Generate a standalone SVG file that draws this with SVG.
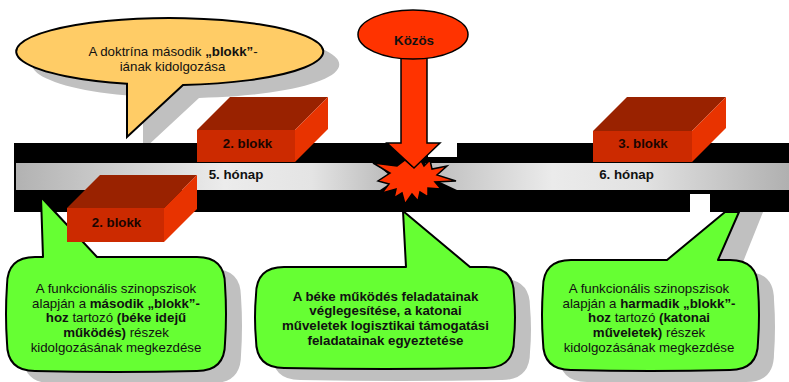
<svg xmlns="http://www.w3.org/2000/svg" width="789" height="382" viewBox="0 0 789 382">
<defs>
<style>
text{font-family:"Liberation Sans",Arial,sans-serif;font-size:13.3px;fill:#111;}
.b{font-weight:bold;}
.bub{fill:#66ff33;stroke:#000;stroke-width:2;stroke-linejoin:round;}
.shadow{fill:#c0c0c0;}
.top{fill:#992200;}
.front{fill:#cc2a00;}
.side{fill:#e83300;}
.blk{font-weight:bold;fill:#1a0500;text-anchor:middle;}
.red{fill:#ff3300;stroke:#000;stroke-width:1.5;stroke-linejoin:miter;}
.mid{text-anchor:middle;}
</style>
<linearGradient id="g5" gradientUnits="userSpaceOnUse" x1="16" y1="0" x2="395" y2="0">
<stop offset="0" stop-color="#b2b2b2"/>
<stop offset="0.55" stop-color="#ececec"/>
<stop offset="0.78" stop-color="#e4e4e4"/>
<stop offset="1" stop-color="#b8b8b8"/>
</linearGradient>
<linearGradient id="g6" gradientUnits="userSpaceOnUse" x1="425" y1="0" x2="789" y2="0">
<stop offset="0" stop-color="#bcbcbc"/>
<stop offset="0.35" stop-color="#ebebeb"/>
<stop offset="0.6" stop-color="#e2e2e2"/>
<stop offset="1" stop-color="#b0b0b0"/>
</linearGradient>
</defs>
<rect width="789" height="382" fill="#fff"/>

<!-- yellow callout -->
<g id="callout-doktrina">
<path class="shadow" transform="translate(16,13)" d="M127,83.7 L127,137 L183,84.9 A153.5 33.5 0 1 0 127,83.7 Z"/>
<path d="M127,83.7 L127,137 L183,84.9 A153.5 33.5 0 1 0 127,83.7 Z" fill="#ffcc66" stroke="#000" stroke-width="2" stroke-linejoin="miter"/>
<text class="mid" x="173" y="55.5">A doktrína második <tspan class="b">„blokk”</tspan>-</text>
<text class="mid" x="172.5" y="71">iának kidolgozása</text>
</g>

<!-- timeline band -->
<g id="timeline">
<rect x="14" y="143" width="775" height="69" fill="#000"/>
<polygon points="16,163 375,163 395,180 380,190 16,190" fill="url(#g5)"/>
<polygon points="425,163 789,163 789,190 457,190 440,182" fill="url(#g6)"/>
<rect x="428" y="143" width="29" height="14" fill="#fff"/>
<rect x="690" y="194" width="20" height="18" fill="#fff"/>
<text class="b mid" x="236" y="178.5">5. hónap</text>
<text class="b mid" x="626.5" y="178.5">6. hónap</text>
</g>

<!-- green callouts -->
<g id="callout-left">
<path class="shadow" transform="translate(16,12)" d="M35,257 L197,257 Q225,257 225,285 Q227,314 225,343 Q225,371 197,371 Q116,373 35,371 Q7,371 7,343 Q5,314 7,285 Q7,257 35,257 Z"/>
<path class="bub" d="M35,257 L43,257 L41,197 L97,257 L197,257 Q225,257 225,285 Q227,314 225,343 Q225,371 197,371 Q116,373 35,371 Q7,371 7,343 Q5,314 7,285 Q7,257 35,257 Z"/>
<text class="mid" x="116" y="292.7">A funkcionális szinopszisok</text>
<text class="mid" x="116" y="307.5">alapján a <tspan class="b">második „blokk”-</tspan></text>
<text class="mid" x="116" y="322.2"><tspan class="b">hoz</tspan> tartozó <tspan class="b">(béke idejű</tspan></text>
<text class="mid" x="116" y="337"><tspan class="b">működés)</tspan> részek</text>
<text class="mid" x="116" y="351.7">kidolgozásának megkezdése</text>
</g>

<g id="callout-middle">
<path class="shadow" transform="translate(16,12)" d="M284,267 L486,267 Q514,267 514,295 Q516,317 514,340 Q514,368 486,368 Q385,370 284,368 Q256,368 256,340 Q254,317 256,295 Q256,267 284,267 Z"/>
<path class="bub" d="M284,267 L406,267 L403,211 L470,267 L486,267 Q514,267 514,295 Q516,317 514,340 Q514,368 486,368 Q385,370 284,368 Q256,368 256,340 Q254,317 256,295 Q256,267 284,267 Z"/>
<text class="b mid" x="385.5" y="300.5">A béke működés feladatainak</text>
<text class="b mid" x="385.5" y="315.2">véglegesítése, a katonai</text>
<text class="b mid" x="385.5" y="330">műveletek logisztikai támogatási</text>
<text class="b mid" x="385.5" y="344.7">feladatainak egyeztetése</text>
</g>

<g id="callout-right">
<polygon class="shadow" points="718,260 739,212 763,212 743,262"/>
<path class="shadow" transform="translate(16,12)" d="M571,260 L730,260 Q758,260 758,288 Q760,315 758,342 Q758,370 730,370 Q650,372 571,370 Q543,370 543,342 Q541,315 543,288 Q543,260 571,260 Z"/>
<path class="bub" d="M571,260 L667,260 L725,212 L739,212 L718,260 L730,260 Q758,260 758,288 Q760,315 758,342 Q758,370 730,370 Q650,372 571,370 Q543,370 543,342 Q541,315 543,288 Q543,260 571,260 Z"/>
<text class="mid" x="649" y="292.7">A funkcionális szinopszisok</text>
<text class="mid" x="649" y="307.5">alapján a <tspan class="b">harmadik „blokk”-</tspan></text>
<text class="mid" x="649" y="322.2"><tspan class="b">hoz</tspan> tartozó <tspan class="b">(katonai</tspan></text>
<text class="mid" x="649" y="337"><tspan class="b">műveletek)</tspan> részek</text>
<text class="mid" x="649" y="351.7">kidolgozásának megkezdése</text>
</g>

<!-- blocks -->
<g id="block-2-upper">
<polygon class="top" points="197,130 230,97 328,97 295,130"/>
<polygon class="side" points="295,130 328,97 328,129 295,162"/>
<rect class="front" x="197" y="130" width="98" height="32"/>
<text class="blk" x="247.5" y="148">2. blokk</text>
</g>
<g id="block-2-lower">
<polygon class="top" points="67,208 100,175 197,175 164,208"/>
<polygon class="side" points="164,208 197,175 197,209 164,242"/>
<rect class="front" x="67" y="208" width="97" height="34"/>
<text class="blk" x="116.5" y="226.5">2. blokk</text>
</g>
<g id="block-3">
<polygon class="top" points="593,131 627,97 726,97 692,131"/>
<polygon class="side" points="692,131 726,97 726,128 692,162"/>
<rect class="front" x="593" y="131" width="99" height="31"/>
<text class="blk" x="643" y="148.3">3. blokk</text>
</g>

<!-- explosion -->
<g id="explosion">
<polygon class="red" points="373,163 397,166 405,160 412,166 420,159 424,166 430,160 432,169 447,166 437,175 456,181 435,182 441,189 428,188 428,197 420,192 418,201 412,194 405,204 402,193 394,198 396,189 382,193 389,184 378,181 390,173"/>
</g>

<!-- Közös arrow -->
<g id="kozos">
<path class="red" d="M401,50 L427,50 L427,143 L440,143 L414,168 L387,143 L401,143 Z"/>
<ellipse class="red" cx="413" cy="34.5" rx="55" ry="24.5" stroke-width="2"/>
<text class="b mid" x="414" y="45">Közös</text>
</g>
</svg>
